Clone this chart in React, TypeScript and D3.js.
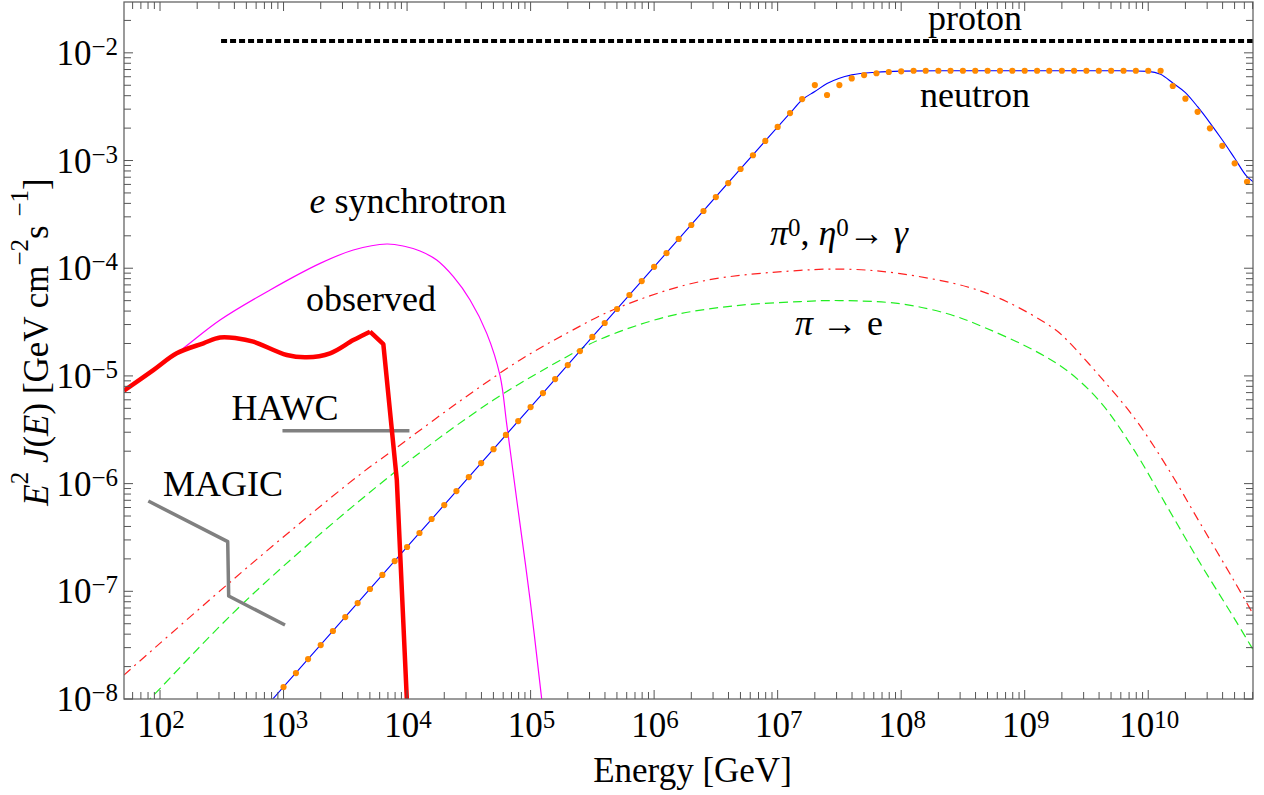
import React from "react";
import * as d3 from "d3";

// ---------- data ----------
const xDomain = [51.1, 7.05e10];
const yDomain = [1e-8, 2.965e-2];
const xTickExponents = [2, 3, 4, 5, 6, 7, 8, 9, 10];
const yTickExponents = [-8, -7, -6, -5, -4, -3, -2];

const protonEnergy = [312, 7.05e10];
const protonFlux = [1.29e-2, 1.29e-2];

const neutronEnergy = [700, 1e4, 1e5, 1e6, 1.26e7, 1.58e7, 2.0e7, 2.51e7, 3.16e7, 3.98e7, 6.31e7, 1e8, 2e8, 6.31e9, 1e10, 1.26e10, 1.58e10, 2.0e10, 2.51e10, 3.16e10, 3.98e10, 5.01e10, 6.31e10, 7.08e10];
const neutronFlux = [8.16e-9, 2.58e-7, 5.14e-6, 1.03e-4, 2.75e-3, 3.67e-3, 4.37e-3, 5.19e-3, 5.82e-3, 6.24e-3, 6.61e-3, 6.76e-3, 6.82e-3, 6.82e-3, 6.73e-3, 6.31e-3, 5.25e-3, 4.27e-3, 3.16e-3, 2.24e-3, 1.55e-3, 1.05e-3, 7.08e-4, 6.35e-4];

const neutronDotEnergy = [
  1.0e3, 1.26e3, 1.58e3, 2.0e3, 2.51e3, 3.16e3, 3.98e3, 5.01e3, 6.31e3, 7.94e3,
  1.0e4, 1.26e4, 1.58e4, 2.0e4, 2.51e4, 3.16e4, 3.98e4, 5.01e4, 6.31e4, 7.94e4,
  1.0e5, 1.26e5, 1.58e5, 2.0e5, 2.51e5, 3.16e5, 3.98e5, 5.01e5, 6.31e5, 7.94e5,
  1.0e6, 1.26e6, 1.58e6, 2.0e6, 2.51e6, 3.16e6, 3.98e6, 5.01e6, 6.31e6, 7.94e6,
  1.0e7, 1.26e7, 1.58e7, 2.0e7, 2.51e7, 3.16e7, 3.98e7, 5.01e7, 6.31e7, 7.94e7,
  1.0e8, 1.26e8, 1.58e8, 2.0e8, 2.51e8, 3.16e8, 3.98e8, 5.01e8, 6.31e8, 7.94e8,
  1.0e9, 1.26e9, 1.58e9, 2.0e9, 2.51e9, 3.16e9, 3.98e9, 5.01e9, 6.31e9, 7.94e9,
  1.0e10, 1.26e10, 1.58e10, 2.0e10, 2.51e10, 3.16e10, 3.98e10, 5.01e10, 6.31e10,
];
const neutronDotFlux = [
  1.29e-8, 1.74e-8, 2.35e-8, 3.17e-8, 4.28e-8, 5.77e-8, 7.78e-8, 1.05e-7, 1.42e-7, 1.91e-7,
  2.58e-7, 3.48e-7, 4.69e-7, 6.32e-7, 8.53e-7, 1.15e-6, 1.55e-6, 2.09e-6, 2.83e-6, 3.81e-6,
  5.14e-6, 6.93e-6, 9.35e-6, 1.26e-5, 1.7e-5, 2.3e-5, 3.1e-5, 4.18e-5, 5.64e-5, 7.6e-5,
  1.03e-4, 1.38e-4, 1.87e-4, 2.52e-4, 3.4e-4, 4.58e-4, 6.18e-4, 8.34e-4, 1.12e-3, 1.52e-3,
  2.05e-3, 2.76e-3, 3.72e-3, 5.02e-3, 4.06e-3, 5.02e-3, 5.79e-3, 6.22e-3, 6.46e-3, 6.64e-3,
  6.73e-3, 6.82e-3, 6.82e-3, 6.82e-3, 6.82e-3, 6.82e-3, 6.82e-3, 6.82e-3, 6.82e-3, 6.82e-3,
  6.82e-3, 6.82e-3, 6.82e-3, 6.82e-3, 6.82e-3, 6.82e-3, 6.82e-3, 6.82e-3, 6.82e-3, 6.82e-3,
  6.82e-3, 6.82e-3, 4.92e-3, 3.75e-3, 2.83e-3, 1.99e-3, 1.37e-3, 9.42e-4, 6.35e-4,
];

const gammaEnergy = [51.05, 535.8, 3917, 7745, 2.523e4, 8.222e4, 1.963e5, 4.989e5, 2.355e6, 1.521e7, 3.98e7, 9.82e7, 3.404e8, 7.178e8, 1.71e9, 2.198e9, 4.083e9, 7.603e9, 1.416e10, 2.636e10, 4.909e10, 7.129e10];
const gammaFlux = [1.67e-8, 1.754e-7, 1.153e-6, 2.051e-6, 5.559e-6, 1.406e-5, 2.489e-5, 4.246e-5, 7.516e-5, 9.55e-5, 9.77e-5, 8.91e-5, 6.73e-5, 4.887e-5, 2.767e-5, 2.153e-5, 9.84e-6, 4.178e-6, 1.435e-6, 4.276e-7, 1.274e-7, 6.03e-8];

const electronEnergy = [63.1, 83.0, 535.8, 7745, 5.0e4, 1.963e5, 3.656e5, 1.268e6, 4.385e6, 1.521e7, 3.162e7, 9.82e7, 2.495e8, 4.943e8, 1.178e9, 2.198e9, 4.083e9, 7.603e9, 1.416e10, 2.636e10, 4.909e10, 7.129e10];
const electronFlux = [7.2e-9, 1e-8, 8.91e-8, 1.247e-6, 5.97e-6, 1.507e-5, 2.188e-5, 3.548e-5, 4.467e-5, 4.898e-5, 5.01e-5, 4.677e-5, 3.715e-5, 2.754e-5, 1.738e-5, 1.122e-5, 5.75e-6, 2.089e-6, 6.17e-7, 1.82e-7, 5.75e-8, 2.82e-8];

const synchEnergy = [51.05, 136.5, 306.2, 778, 1977, 3673, 6855, 9500, 1.274e4, 1.738e4, 2.371e4, 3.236e4, 4.416e4, 5.662e4, 6.412e4, 7.727e4, 9.908e4, 1.23e5, 1.318e5];
const synchFlux = [7.29e-6, 1.622e-5, 3.304e-5, 6.281e-5, 1.109e-4, 1.476e-4, 1.679e-4, 1.6e-4, 1.445e-4, 1.191e-4, 8.34e-5, 5.07e-5, 2.483e-5, 1e-5, 3.55e-6, 7.05e-7, 8.3e-8, 1e-8, 5e-9];

const observedEnergy = [51.05, 88.3, 136.5, 224.4, 306.2, 416.9, 568.9, 1062, 1542, 2382, 3673, 5012];
const observedFlux = [7.29e-6, 1.132e-5, 1.622e-5, 2.009e-5, 2.275e-5, 2.239e-5, 2.08e-5, 1.563e-5, 1.489e-5, 1.622e-5, 2.153e-5, 2.576e-5];
const observedDropEnergy = [5012, 6427, 8260, 9954, 1.023e4];
const observedDropFlux = [2.576e-5, 1.972e-5, 1.079e-6, 1e-8, 5e-9];

const hawcEnergy = [980, 1.045e4];
const hawcFlux = [3.1e-6, 3.1e-6];

const magicEnergy = [80.4, 353.2, 359.7, 1028];
const magicFlux = [6.89e-7, 2.89e-7, 9.04e-8, 4.86e-8];

// ---------- layout ----------
const W = 1264;
const H = 795;
const L = 124, R = 1253, T = 2, B = 699;
const FONT = "'Liberation Serif', 'Times New Roman', Times, serif";

export default function App() {
  const x = d3.scaleLog().domain(xDomain).range([L, R]);
  const y = d3.scaleLog().domain(yDomain).range([B, T]);

  const path = (xs: number[], ys: number[], curve: any) =>
    d3
      .line<[number, number]>()
      .x((d) => x(d[0]))
      .y((d) => y(d[1]))
      .curve(curve)(d3.zip(xs, ys) as [number, number][]) || "";

  const smooth = d3.curveCatmullRom.alpha(0.5);

  const xTicks: { v: number; major: boolean }[] = [];
  for (let e = 1; e <= 10; e++)
    for (let m = 1; m <= 9; m++) {
      const v = m * Math.pow(10, e);
      if (v >= xDomain[0] && v <= xDomain[1]) xTicks.push({ v, major: m === 1 });
    }
  const yTicks: { v: number; major: boolean }[] = [];
  for (let e = -9; e <= -2; e++)
    for (let m = 1; m <= 9; m++) {
      const v = m * Math.pow(10, e);
      if (v >= yDomain[0] * 0.9999 && v <= yDomain[1]) yTicks.push({ v, major: m === 1 });
    }

  const tickColor = "#555";
  const majorLen = 9;
  const minorLen = 7;

  return (
    <svg
      width={W}
      height={H}
      viewBox={`0 0 ${W} ${H}`}
      style={{ position: "absolute", left: 0, top: 0, background: "#fff" }}
      fontFamily={FONT}
    >
      <defs>
        <clipPath id="plot">
          <rect x={L} y={T} width={R - L} height={B - T} />
        </clipPath>
      </defs>
      <rect x={0} y={0} width={W} height={H} fill="#fff" />

      <g clipPath="url(#plot)">
        <path d={path(gammaEnergy, gammaFlux, smooth)} fill="none" stroke="#ff2020" strokeWidth={1.2} strokeDasharray="9,5,2,5" />
        <path d={path(electronEnergy, electronFlux, smooth)} fill="none" stroke="#22ee22" strokeWidth={1.2} strokeDasharray="9,5" />
        <path d={path(synchEnergy, synchFlux, smooth)} fill="none" stroke="#ff00ff" strokeWidth={1.2} />
        <path d={path(neutronEnergy, neutronFlux, d3.curveMonotoneX)} fill="none" stroke="#0000ff" strokeWidth={1.1} />
        {neutronDotEnergy.map((e, i) => (
          <circle key={i} cx={x(e)} cy={y(neutronDotFlux[i])} r={3.1} fill="#ff8a00" />
        ))}
        <path d={path(hawcEnergy, hawcFlux, d3.curveLinear)} fill="none" stroke="#808080" strokeWidth={3.5} />
        <path d={path(magicEnergy, magicFlux, d3.curveLinear)} fill="none" stroke="#808080" strokeWidth={3.5} strokeLinejoin="round" />
        <path d={path(observedEnergy, observedFlux, smooth)} fill="none" stroke="#ff0000" strokeWidth={4.5} />
        <path d={path(observedDropEnergy, observedDropFlux, d3.curveLinear)} fill="none" stroke="#ff0000" strokeWidth={4.5} strokeLinejoin="round" />
        <path d={path(protonEnergy, protonFlux, d3.curveLinear)} fill="none" stroke="#000" strokeWidth={4} strokeDasharray="6,3" />
      </g>

      {/* frame */}
      <rect x={L} y={T} width={R - L} height={B - T} fill="none" stroke="#666" strokeWidth={1.3} />

      {/* x ticks (bottom + top) */}
      {xTicks.map((t, i) => {
        const px = x(t.v);
        const len = t.major ? majorLen : minorLen;
        return (
          <g key={"xt" + i} stroke={tickColor} strokeWidth={1}>
            <line x1={px} x2={px} y1={B} y2={B - len} />
            <line x1={px} x2={px} y1={T} y2={T + len} />
          </g>
        );
      })}
      {/* y ticks (left + right) */}
      {yTicks.map((t, i) => {
        const py = y(t.v);
        const len = t.major ? majorLen : minorLen;
        return (
          <g key={"yt" + i} stroke={tickColor} strokeWidth={1}>
            <line x1={L} x2={L + len} y1={py} y2={py} />
            <line x1={R} x2={R - len} y1={py} y2={py} />
          </g>
        );
      })}

      {/* x tick labels */}
      {xTickExponents.map((e) => (
        <text key={"xl" + e} x={x(Math.pow(10, e)) + 1} y={737} fontSize={35} textAnchor="middle" fill="#000">
          <tspan>10</tspan>
          <tspan dy={-9} fontSize={25}>{e}</tspan>
        </text>
      ))}
      {/* y tick labels */}
      {yTickExponents.map((e) => (
        <text key={"yl" + e} x={118} y={y(Math.pow(10, e)) + 12} fontSize={35} textAnchor="end" fill="#000">
          <tspan>10</tspan>
          <tspan dy={-10} fontSize={25}>{"\u2212" + Math.abs(e)}</tspan>
        </text>
      ))}

      {/* axis titles */}
      <text x={(L + R) / 2 + 4} y={782} fontSize={35} textAnchor="middle" fill="#000">
        Energy [GeV]
      </text>
      <text transform="translate(48,342) rotate(-90)" fontSize={35} textAnchor="middle" fill="#000">
        <tspan fontStyle="italic">E</tspan>
        <tspan dy={-20} fontSize={25}>2</tspan>
        <tspan dy={20} fontStyle="italic"> J</tspan>
        <tspan>(</tspan>
        <tspan fontStyle="italic">E</tspan>
        <tspan>) [GeV cm</tspan>
        <tspan dy={-20} fontSize={25}>{"\u22122"}</tspan>
        <tspan dy={20}>s </tspan>
        <tspan dy={-20} fontSize={25}>{"\u22121"}</tspan>
        <tspan dy={20}>]</tspan>
      </text>

      {/* annotations */}
      <g fontSize={36} fill="#000" textAnchor="middle">
        <text x={975} y={30}>proton</text>
        <text x={975} y={107}>neutron</text>
        <text x={408} y={213}>
          <tspan fontStyle="italic">e</tspan>
          <tspan> synchrotron</tspan>
        </text>
        <text x={371} y={311}>observed</text>
        <text x={285} y={420}>HAWC</text>
        <text x={223} y={496}>MAGIC</text>
        <text x={839} y={245}>
          <tspan fontStyle="italic">π</tspan>
          <tspan dy={-9} fontSize={25}>0</tspan>
          <tspan dy={9}>, </tspan>
          <tspan fontStyle="italic">η</tspan>
          <tspan dy={-9} fontSize={25}>0</tspan>
          <tspan dy={9}>→ </tspan>
          <tspan fontStyle="italic">γ</tspan>
        </text>
        <text x={839} y={335}>
          <tspan fontStyle="italic">π</tspan>
          <tspan> → e</tspan>
        </text>
      </g>
    </svg>
  );
}
